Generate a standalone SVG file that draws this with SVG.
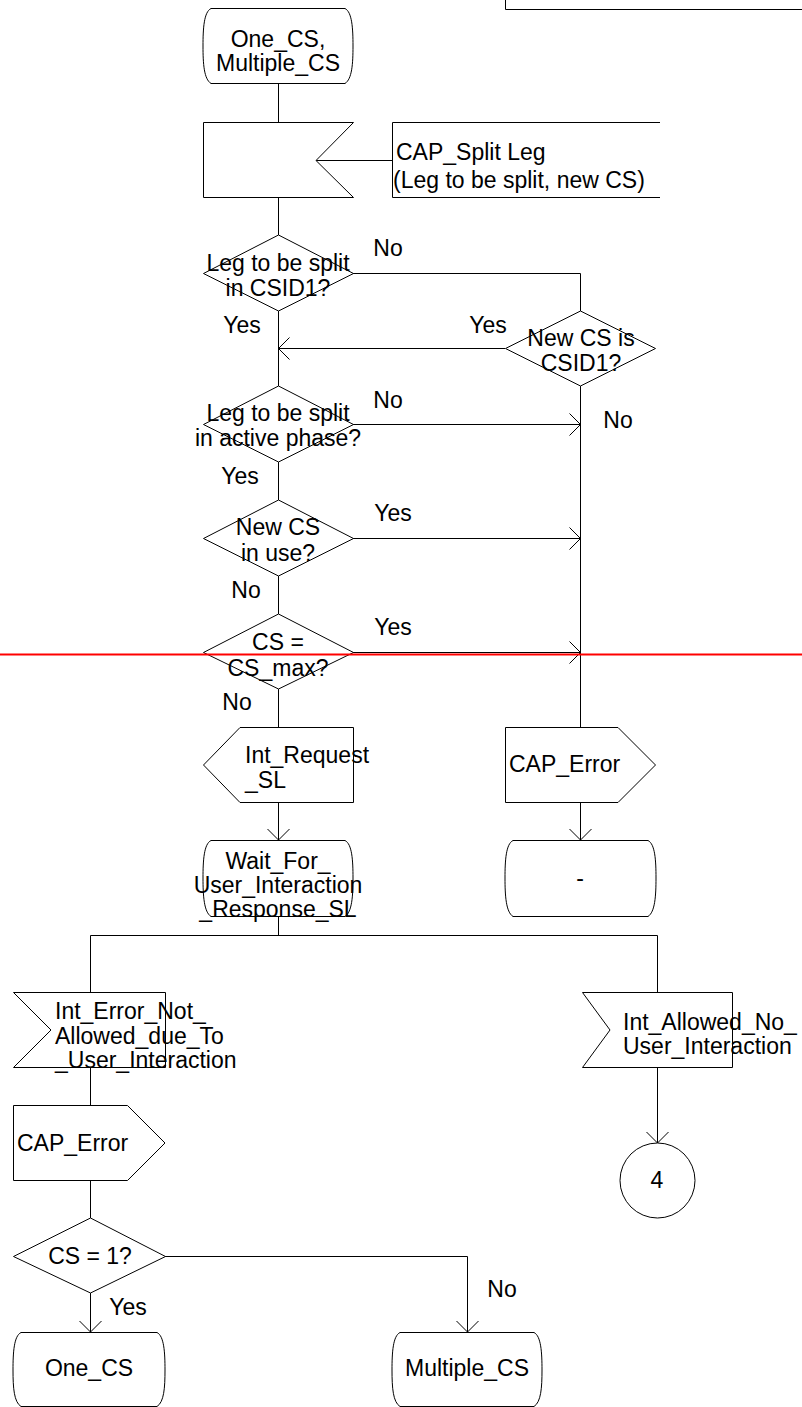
<svg xmlns="http://www.w3.org/2000/svg" width="802" height="1407" viewBox="0 0 802 1407">
<style>
.s{fill:#fff;stroke:#000;stroke-width:1}
.c{fill:none;stroke:#000;stroke-width:1}
.a{fill:none;stroke:#000;stroke-width:1;marker-end:url(#arr)}
text{font-family:"Liberation Sans",Arial,sans-serif;font-size:23px;fill:#000}
.m{text-anchor:middle}
</style>
<defs>
<marker id="arr" viewBox="0 0 24 24" markerUnits="userSpaceOnUse" markerWidth="24" markerHeight="24" refX="12" refY="12" orient="auto">
<path d="M1,1 L12,12 L1,23" fill="none" stroke="#000" stroke-width="1"/>
</marker>
</defs>
<rect width="802" height="1407" fill="#fff"/>

<g id="frame-top">
<path class="c" d="M505.5,0 V9.5 H802"/>
</g>

<g id="connectors">
<path class="c" d="M278.5,83 V122"/>
<path class="c" d="M316,160.5 H392"/>
<path class="c" d="M278.5,197 V235"/>
<path class="c" d="M353,273.5 H580.5 V311"/>
<path class="a" d="M505,348.5 H278.5"/>
<path class="c" d="M278.5,311 V386"/>
<path class="a" d="M353,424.5 H580.5"/>
<path class="c" d="M580.5,386 V727"/>
<path class="c" d="M278.5,462 V500"/>
<path class="a" d="M353,538.5 H580.5"/>
<path class="c" d="M278.5,576 V614"/>
<path class="a" d="M353,652.5 H580.5"/>
<path class="c" d="M278.5,689 V727"/>
<path class="a" d="M278.5,802 V840"/>
<path class="a" d="M580.5,802 V840"/>
<path class="c" d="M278.5,916 V935.5"/>
<path class="c" d="M90.5,992 V935.5 H657.5 V992"/>
<path class="c" d="M90.5,1067 V1105"/>
<path class="a" d="M657.5,1067 V1143"/>
<path class="c" d="M90.5,1181 V1218"/>
<path class="a" d="M165,1256.5 H467.5 V1332"/>
<path class="a" d="M90.5,1293 V1332"/>
</g>

<g id="state-start">
<path class="s" d="M211,8.5 H345 C352,12 353,28 353,46 C353,64 352,79 345,83.5 H211 C204,79 203,64 203,46 C203,28 204,12 211,8.5 Z"/>
<text class="m" x="278" y="47">One_CS,</text>
<text class="m" x="278" y="71">Multiple_CS</text>
</g>

<g id="input-split">
<path class="s" d="M203.5,122.5 H353.5 L316,160.5 L353.5,197.5 H203.5 Z"/>
</g>

<g id="comment-split">
<path class="c" d="M660,122.5 H392.5 V197.5 H660"/>
<text x="396" y="160">CAP_Split Leg</text>
<text x="393" y="188">(Leg to be split, new CS)</text>
</g>

<g id="dec-csid1">
<path class="s" d="M278.5,235 L353.5,273.5 L278.5,311 L203.5,273.5 Z"/>
<text class="m" x="278" y="271">Leg to be split</text>
<text class="m" x="278" y="296">in CSID1?</text>
</g>

<g id="dec-newcs-csid1">
<path class="s" d="M580.5,311 L655.5,348.5 L580.5,386 L505.5,348.5 Z"/>
<text class="m" x="581" y="346">New CS is</text>
<text class="m" x="581" y="371">CSID1?</text>
</g>

<g id="dec-active">
<path class="s" d="M278.5,386 L353.5,424.5 L278.5,462 L203.5,424.5 Z"/>
<text class="m" x="278" y="421">Leg to be split</text>
<text class="m" x="278" y="446">in active phase?</text>
</g>

<g id="dec-inuse">
<path class="s" d="M278.5,500 L353.5,538.5 L278.5,576 L203.5,538.5 Z"/>
<text class="m" x="278" y="535">New CS</text>
<text class="m" x="278" y="561">in use?</text>
</g>

<g id="dec-max">
<path class="s" d="M278.5,614 L353.5,652.5 L278.5,689 L203.5,652.5 Z"/>
<text class="m" x="278" y="650">CS =</text>
<text class="m" x="278" y="676">CS_max?</text>
</g>

<g id="labels">
<text class="m" x="388" y="256">No</text>
<text class="m" x="242" y="333">Yes</text>
<text class="m" x="488" y="333">Yes</text>
<text class="m" x="388" y="408">No</text>
<text class="m" x="618" y="428">No</text>
<text class="m" x="240" y="484">Yes</text>
<text class="m" x="393" y="521">Yes</text>
<text class="m" x="246" y="598">No</text>
<text class="m" x="393" y="635">Yes</text>
<text class="m" x="237" y="710">No</text>
<text class="m" x="502" y="1297">No</text>
<text class="m" x="128" y="1315">Yes</text>
</g>

<g id="out-request">
<path class="s" d="M240,727.5 H353.5 V802.5 H240 L203.5,765 Z"/>
<text x="245" y="763">Int_Request</text>
<text x="245" y="788">_SL</text>
</g>

<g id="out-caperror-1">
<path class="s" d="M505.5,727.5 H618 L655.5,765 L618,802.5 H505.5 Z"/>
<text x="509" y="772">CAP_Error</text>
</g>

<g id="state-wait">
<path class="s" d="M211,840.5 H345 C352,844 353,860 353,878 C353,896 352,912 345,916.5 H211 C204,912 203,896 203,878 C203,860 204,844 211,840.5 Z"/>
<text class="m" x="278" y="869">Wait_For_</text>
<text class="m" x="278" y="893">User_Interaction</text>
<text class="m" x="278" y="917">_Response_SL</text>
</g>

<g id="state-dash">
<path class="s" d="M513,840.5 H648 C655,844 656,860 656,878 C656,896 655,912 648,916.5 H513 C506,912 505,896 505,878 C505,860 506,844 513,840.5 Z"/>
<text class="m" x="580" y="886">-</text>
</g>

<g id="in-error">
<path class="s" d="M13.5,992.5 H165.5 V1067.5 H13.5 L51,1030 Z"/>
<text x="55" y="1019">Int_Error_Not_</text>
<text x="55" y="1044">Allowed_due_To</text>
<text x="55" y="1068">_User_Interaction</text>
</g>

<g id="in-allowed">
<path class="s" d="M582.5,992.5 H732.5 V1067.5 H582.5 L610,1030 Z"/>
<text x="623" y="1030">Int_Allowed_No_</text>
<text x="623" y="1054">User_Interaction</text>
</g>

<g id="connector-4">
<circle class="s" cx="657.5" cy="1180.5" r="37.5"/>
<text class="m" x="657" y="1188">4</text>
</g>

<g id="out-caperror-2">
<path class="s" d="M13.5,1105.5 H127.5 L165,1143 L127.5,1180.5 H13.5 Z"/>
<text x="17" y="1151">CAP_Error</text>
</g>

<g id="dec-cs1">
<path class="s" d="M90.5,1218 L165.5,1256.5 L90.5,1293 L13.5,1256.5 Z"/>
<text class="m" x="90" y="1264">CS = 1?</text>
</g>

<g id="state-onecs">
<path class="s" d="M21,1332.5 H157 C164,1336 165,1352 165,1370 C165,1388 164,1402 157,1406.5 H21 C14,1402 13,1388 13,1370 C13,1352 14,1336 21,1332.5 Z"/>
<text class="m" x="89" y="1376">One_CS</text>
</g>

<g id="state-multiplecs">
<path class="s" d="M400,1332.5 H534 C541,1336 542,1352 542,1370 C542,1388 541,1402 534,1406.5 H400 C393,1402 392,1388 392,1370 C392,1352 393,1336 400,1332.5 Z"/>
<text class="m" x="467" y="1376">Multiple_CS</text>
</g>

<g id="red-line">
<path d="M0,654.5 H802" stroke="#ff0000" stroke-width="2" fill="none"/>
</g>
</svg>
